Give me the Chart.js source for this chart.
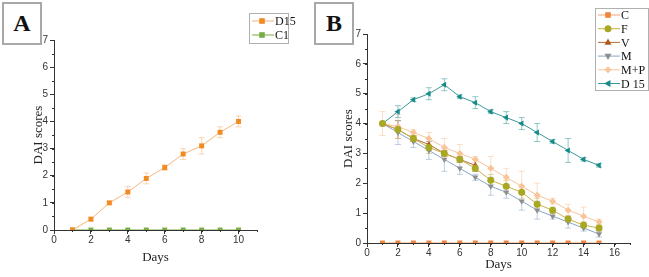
<!DOCTYPE html>
<html>
<head>
<meta charset="utf-8">
<script src="https://cdn.jsdelivr.net/npm/chart.js@4/dist/chart.umd.min.js"></script>
<style>
    html, body { margin: 0; padding: 0; background: #fff; }
    body { width: 649px; height: 277px; position: relative; overflow: hidden; }
    canvas { position: absolute; top: 0; }
    #chartA { left: 0; }
    #chartB { left: 310px; }
    .panel-label {
        position: absolute;
        top: 2px;
        width: 36px;
        height: 39px;
        border: 2px solid #a8a8a8;
        font: bold 24px "Liberation Serif", "DejaVu Serif", serif;
        color: #111;
        display: flex;
        align-items: center;
        justify-content: center;
        background: #fff;
    }
</style>
</head>
<body>
<div class="panel-label" style="left:2px">A</div>
<div class="panel-label" style="left:314px">B</div>
<canvas id="chartA" width="310" height="277"></canvas>
<canvas id="chartB" width="339" height="277"></canvas>
<script>
// Panel A data
const daysA = [1, 2, 3, 4, 5, 6, 7, 8, 9, 10];
const d15A = [0, 0.4, 1.0, 1.4, 1.9, 2.3, 2.8, 3.1, 3.6, 4.0];
const d15AErr = [0, 0.06, 0.06, 0.2, 0.2, 0.1, 0.2, 0.3, 0.2, 0.2];
const c1A = [0, 0, 0, 0, 0, 0, 0, 0, 0, 0];

// Panel B data
const daysB = [1, 2, 3, 4, 5, 6, 7, 8, 9, 10, 11, 12, 13, 14, 15];
const cB = [0, 0, 0, 0, 0, 0, 0, 0, 0, 0, 0, 0, 0, 0, 0];
const fB = [4.0, 3.8, 3.5, 3.2, 3.0, 2.8, 2.5, 2.1, 1.9, 1.7, 1.3, 1.1, 0.8, 0.6, 0.5];
const fBErr = [0, 0.3, 0.1, 0.2, 0.1, 0.1, 0.1, 0.2, 0.2, 0.2, 0.2, 0.1, 0.1, 0.1, 0.1];
const vB = [4.0, 3.8, 3.5, 3.3, 3.0, 2.8, 2.6];
const vBErr = [0, 0.3, 0.1, 0.2, 0.1, 0.1, 0.2];
const mB = [4.0, 3.7, 3.4, 3.1, 2.8, 2.5, 2.2, 1.9, 1.7, 1.4, 1.1, 0.9, 0.7, 0.5, 0.3];
const mBErr = [0, 0.4, 0.2, 0.3, 0.4, 0.2, 0.1, 0.3, 0.2, 0.3, 0.3, 0.1, 0.2, 0.1, 0.1];
const mpB = [4.0, 3.9, 3.7, 3.5, 3.2, 3.0, 2.8, 2.5, 2.2, 1.9, 1.6, 1.4, 1.1, 0.9, 0.7];
const mpBErr = [0.4, 0.4, 0.1, 0.2, 0.3, 0.3, 0.1, 0.4, 0.3, 0.5, 0.4, 0.1, 0.2, 0.3, 0.1];
const d15B = [4.0, 4.4, 4.8, 5.0, 5.3, 4.9, 4.7, 4.4, 4.2, 4.0, 3.7, 3.4, 3.1, 2.8, 2.6];
const d15BErr = [0, 0.2, 0.06, 0.2, 0.2, 0.06, 0.2, 0.06, 0.2, 0.2, 0.3, 0.06, 0.4, 0.06, 0.06];

const tickFont = { family: '"Liberation Sans", Arial, sans-serif', size: 10 };
const titleFont = { family: '"Liberation Serif", "Times New Roman", serif', size: 13 };
const axisColor = '#333';

function toPoints(days, values) {
    return values.map((v, i) => ({ x: days[i], y: v }));
}

// Draws vertical error bars with caps, same colour as the series but faded
const errorBarPlugin = {
    id: 'errorBars',
    beforeDatasetsDraw(chart) {
        const ctx = chart.ctx;
        const yScale = chart.scales.y;
        chart.data.datasets.forEach((ds, di) => {
            if (!ds.errors) return;
            const meta = chart.getDatasetMeta(di);
            ctx.save();
            ctx.strokeStyle = ds.borderColor;
            ctx.globalAlpha = 0.55;
            ctx.lineWidth = 1;
            meta.data.forEach((pt, i) => {
                const err = ds.errors[i];
                if (!err) return;
                const v = ds.data[i].y;
                const yTop = yScale.getPixelForValue(v + err);
                const yBot = yScale.getPixelForValue(v - err);
                ctx.beginPath();
                ctx.moveTo(pt.x, yTop);
                ctx.lineTo(pt.x, yBot);
                ctx.moveTo(pt.x - 3, yTop);
                ctx.lineTo(pt.x + 3, yTop);
                ctx.moveTo(pt.x - 3, yBot);
                ctx.lineTo(pt.x + 3, yBot);
                ctx.stroke();
            });
            ctx.restore();
        });
    }
};

// Minor tick marks between labelled ticks
const minorTickPlugin = {
    id: 'minorTicks',
    afterDraw(chart, args, opts) {
        const ctx = chart.ctx;
        const { x, y } = chart.scales;
        ctx.save();
        ctx.strokeStyle = axisColor;
        ctx.lineWidth = 1;
        ctx.beginPath();
        for (let v = x.min; v <= x.max + 1e-9; v += opts.x) {
            const px = Math.round(x.getPixelForValue(v)) + 0.5;
            ctx.moveTo(px, y.bottom);
            ctx.lineTo(px, y.bottom + 2);
        }
        for (let v = y.min; v <= y.max + 1e-9; v += opts.y) {
            const py = Math.round(y.getPixelForValue(v)) + 0.5;
            ctx.moveTo(x.left, py);
            ctx.lineTo(x.left - 2, py);
        }
        ctx.stroke();
        ctx.restore();
    }
};

function drawMarker(ctx, ds, cx, cy) {
    const r = ds.pointRadius;
    const rot = (ds.pointRotation || 0) * Math.PI / 180;
    ctx.save();
    ctx.fillStyle = ds.pointBackgroundColor;
    ctx.translate(cx, cy);
    ctx.rotate(rot);
    ctx.beginPath();
    if (ds.pointStyle === 'rect') {
        ctx.rect(-r * 0.8, -r * 0.8, r * 1.6, r * 1.6);
    } else if (ds.pointStyle === 'rectRot') {
        ctx.moveTo(0, -r); ctx.lineTo(r, 0); ctx.lineTo(0, r); ctx.lineTo(-r, 0);
    } else if (ds.pointStyle === 'triangle') {
        ctx.moveTo(0, -r * 1.1); ctx.lineTo(r, r * 0.7); ctx.lineTo(-r, r * 0.7);
    } else {
        ctx.arc(0, 0, r, 0, Math.PI * 2);
    }
    ctx.closePath();
    ctx.fill();
    ctx.restore();
}

// Boxed legend with line + marker samples
const boxLegendPlugin = {
    id: 'boxLegend',
    afterDraw(chart, args, opts) {
        const ctx = chart.ctx;
        const sets = chart.data.datasets;
        ctx.save();
        ctx.strokeStyle = '#b0b0b0';
        ctx.lineWidth = 1;
        ctx.strokeRect(opts.left + 0.5, opts.top + 0.5, opts.width, opts.height);
        ctx.font = '12px "Liberation Serif", "Times New Roman", serif';
        ctx.textBaseline = 'middle';
        ctx.fillStyle = '#111';
        sets.forEach((ds, i) => {
            const cy = opts.top + opts.firstRow + i * opts.rowHeight;
            ctx.strokeStyle = ds.borderColor;
            ctx.beginPath();
            ctx.moveTo(opts.left + 3, cy);
            ctx.lineTo(opts.left + 25, cy);
            ctx.stroke();
            drawMarker(ctx, ds, opts.left + 13, cy);
            ctx.fillStyle = '#111';
            ctx.fillText(ds.label, opts.left + 26, cy + 1);
        });
        ctx.restore();
    }
};

function series(label, days, values, errors, color, lineColor, style, rotation) {
    return {
        label: label,
        data: toPoints(days, values),
        errors: errors,
        borderColor: lineColor,
        backgroundColor: color,
        pointBackgroundColor: color,
        pointBorderColor: color,
        pointBorderWidth: 0,
        pointStyle: style,
        pointRotation: rotation || 0,
        pointRadius: 3.5,
        borderWidth: 1,
        tension: 0,
        fill: false
    };
}

function axes(xMax, xPad, yWidth, xHeight) {
    return {
        x: {
            type: 'linear',
            min: 0,
            max: xMax,
            afterBuildTicks: scale => {
                scale.ticks = scale.ticks.filter(t => t.value % 2 === 0);
            },
            afterFit: scale => { scale.height = xHeight; },
            ticks: { stepSize: 2, includeBounds: false, autoSkip: false, color: axisColor, font: tickFont, padding: 0, maxRotation: 0 },
            grid: { drawOnChartArea: false, tickLength: 4, color: axisColor },
            border: { color: axisColor, width: 1 },
            title: { display: true, text: 'Days', color: '#222', font: titleFont, padding: { top: 0, bottom: xPad } }
        },
        y: {
            min: 0,
            max: 7,
            afterFit: scale => { scale.width = yWidth; },
            ticks: { stepSize: 1, color: axisColor, font: tickFont, padding: 2 },
            grid: { drawOnChartArea: false, tickLength: 4, color: axisColor },
            border: { color: axisColor, width: 1 },
            title: { display: true, text: 'DAI scores', color: '#222', font: titleFont, padding: { top: 31, bottom: 0 } }
        }
    };
}

const chartA = new Chart(document.getElementById('chartA'), {
    type: 'line',
    data: {
        datasets: [
            series('D15', daysA, d15A, d15AErr, '#f28a22', '#f6b57a', 'rect'),
            series('C1', daysA, c1A, null, '#78ad45', '#78ad45', 'rect')
        ]
    },
    options: {
        responsive: false,
        animation: false,
        layout: { padding: { left: 0, top: 40, right: 53, bottom: 0 } },
        scales: axes(11, 12, 54, 47),
        plugins: {
            legend: { display: false },
            tooltip: { enabled: false },
            minorTicks: { x: 1, y: 0.5 },
            boxLegend: { left: 249, top: 13, width: 39, height: 30, firstRow: 8, rowHeight: 14 }
        }
    },
    plugins: [errorBarPlugin, minorTickPlugin, boxLegendPlugin]
});

const chartB = new Chart(document.getElementById('chartB'), {
    type: 'line',
    data: {
        datasets: [
            series('C', daysB, cB, null, '#f0843c', '#f4a56e', 'rect'),
            series('F', daysB, fB, fBErr, '#a8a822', '#c8b24a', 'circle'),
            series('V', daysB.slice(0, vB.length), vB, vBErr, '#b0561a', '#b86a35', 'triangle'),
            series('M', daysB, mB, mBErr, '#8e8e8e', '#8aa6c8', 'triangle', 180),
            series('M+P', daysB, mpB, mpBErr, '#f8c49a', '#f8c49a', 'rectRot'),
            series('D 15', daysB, d15B, d15BErr, '#178a8a', '#3a9a9a', 'triangle', -90)
        ]
    },
    options: {
        responsive: false,
        animation: false,
        layout: { padding: { left: 0, top: 34, right: 19, bottom: 0 } },
        scales: axes(17, 5, 57, 34),
        plugins: {
            legend: { display: false },
            tooltip: { enabled: false },
            minorTicks: { x: 1, y: 0.5 },
            boxLegend: { left: 285, top: 8, width: 53, height: 82, firstRow: 7, rowHeight: 13.7 }
        }
    },
    plugins: [errorBarPlugin, minorTickPlugin, boxLegendPlugin]
});
</script>
</body>
</html>
